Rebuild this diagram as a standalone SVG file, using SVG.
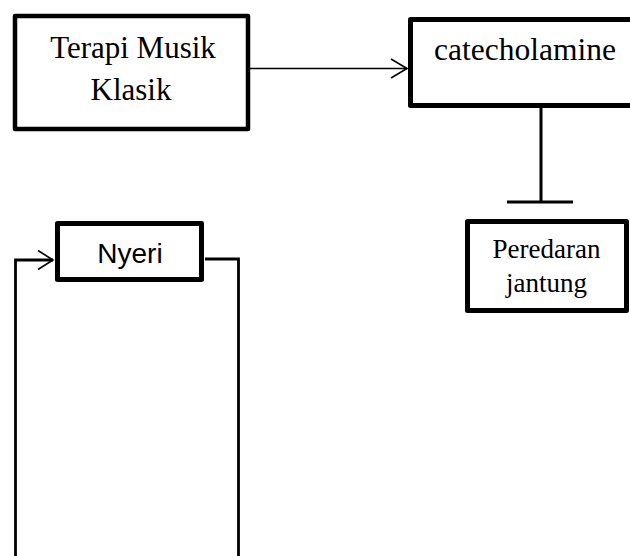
<svg xmlns="http://www.w3.org/2000/svg" width="630" height="556" viewBox="0 0 630 556">
<style>
.box{fill:#fff;stroke:#000;stroke-linejoin:round}
.serif{font-family:"Liberation Serif","Times New Roman",serif;fill:#000;text-anchor:middle}
.sans{font-family:"Liberation Sans",Arial,sans-serif;fill:#000;text-anchor:middle}
.ln{fill:none;stroke:#000}
.head{fill:none;stroke:#000;stroke-width:1.6}
</style>
<rect width="630" height="556" fill="#fff"/>
<g id="connectors">
<line class="ln" x1="250" y1="68.5" x2="407" y2="68.5" stroke-width="1.7"/>
<polyline class="head" points="391,59 407,68.5 391,78"/>
<line class="ln" x1="541" y1="108" x2="541" y2="202" stroke-width="3"/>
<line class="ln" x1="507" y1="202" x2="573" y2="202" stroke-width="3"/>
<polyline class="ln" points="15.5,556 15.5,260 53,260" stroke-width="2.8"/>
<polyline class="head" points="38,250.5 53,260 38,269.5"/>
<polyline class="ln" points="205,259 238.5,259 238.5,556" stroke-width="2.8"/>
</g>
<g id="terapi">
<rect class="box" x="15" y="16" width="233" height="113" stroke-width="4.5"/>
<text class="serif" x="133" y="58" font-size="31">Terapi Musik</text>
<text class="serif" x="131" y="100" font-size="31">Klasik</text>
</g>
<g id="catecholamine">
<rect class="box" x="410.5" y="19.5" width="240" height="86" stroke-width="5"/>
<text class="serif" x="525" y="60" font-size="31.5">catecholamine</text>
</g>
<g id="peredaran">
<rect class="box" x="467.5" y="221.5" width="159" height="89" stroke-width="5"/>
<text class="serif" x="546.5" y="258" font-size="27">Peredaran</text>
<text class="serif" x="546.5" y="292" font-size="27">jantung</text>
</g>
<g id="nyeri">
<rect class="box" x="57.5" y="223.5" width="144" height="56" stroke-width="5"/>
<text class="sans" x="130" y="263" font-size="28">Nyeri</text>
</g>
</svg>
